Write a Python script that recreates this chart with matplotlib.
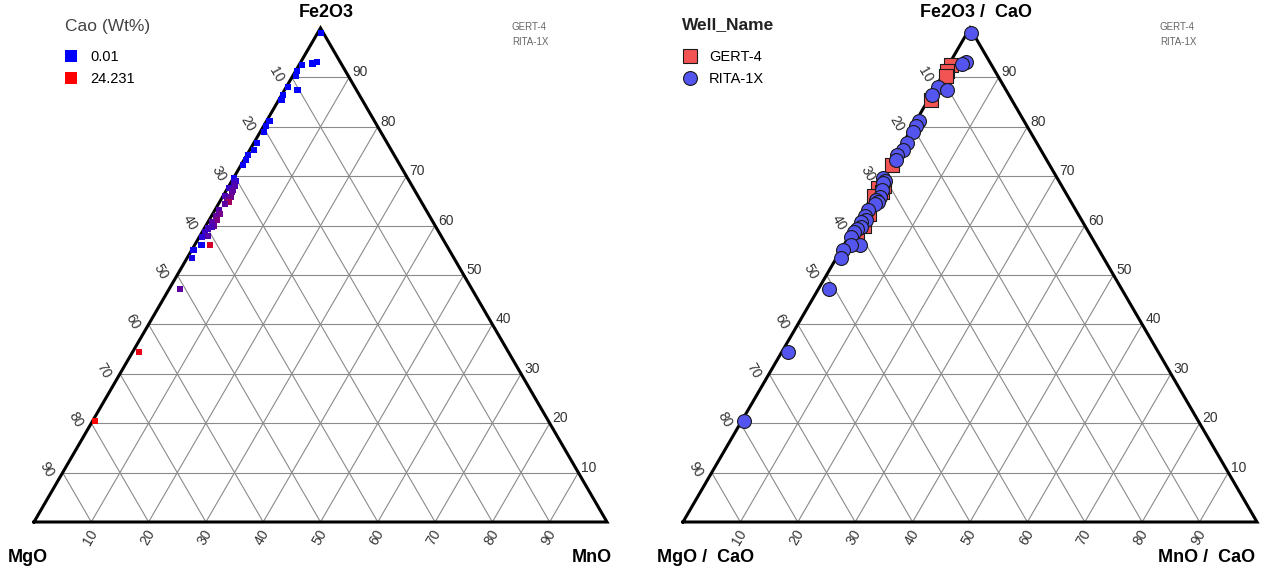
import numpy as np
import matplotlib.pyplot as plt
from matplotlib.colors import LinearSegmentedColormap
from matplotlib.lines import Line2D

plt.rcParams["font.family"] = ["Liberation Sans", "DejaVu Sans"]

# ternary data: Fe2O3 (top), MgO (bottom left), MnO (bottom right), wt% normalised
fe2o3 = [99.0, 93.1, 92.8, 92.5, 91.3, 90.3, 88.1, 87.4, 86.4, 85.4,
         81.2, 80.1, 79.0, 76.7, 75.3, 74.3, 73.3, 72.3, 69.6, 69.0,
         68.6, 68.0, 67.6, 67.2, 66.8, 66.0, 65.8, 65.2, 64.8, 64.4,
         63.2, 62.3, 61.9, 61.1, 60.7, 59.9, 59.8, 59.4, 58.7, 57.9,
         57.7, 56.1, 56.1, 55.1, 53.4, 47.2, 34.4, 20.4]
mno = [0.6, 2.8, 2.2, 0.5, 0.3, 0.6, 0.3, 2.3, 0.2, 0.5,
       0.5, 0.5, 0.6, 0.6, 0.7, 0.2, 0.4, 0.3, 0.1, 0.7,
       0.6, 1.1, 0.2, 1.1, 1.2, 0.3, 1.5, 1.1, 1.6, 1.2,
       0.7, 1.3, 0.8, 1.4, 0.7, 1.5, 1.1, 0.6, 0.5, 1.4,
       0.5, 2.7, 1.2, 0.3, 0.9, 1.9, 1.1, 0.4]
mgo = [0.4, 4.1, 5.0, 7.0, 8.4, 9.1, 11.6, 10.3, 13.4, 14.1,
       18.3, 19.4, 20.4, 22.7, 24.0, 25.5, 26.3, 27.4, 30.3, 30.3,
       30.8, 30.9, 32.2, 31.7, 32.0, 33.7, 32.7, 33.7, 33.6, 34.4,
       36.1, 36.4, 37.3, 37.5, 38.6, 38.6, 39.1, 40.0, 40.8, 40.7,
       41.8, 41.2, 42.7, 44.6, 45.7, 50.9, 64.5, 79.2]
cao = [0.01, 0.05, 0.08, 0.12, 0.10, 0.20, 0.15, 0.30, 0.25, 0.40,
       0.35, 0.50, 0.45, 0.60, 0.70, 0.80, 0.90, 1.10, 1.50, 4.5,
       6.0, 7.5, 5.0, 8.5, 9.0, 7.0, 10.5, 9.5, 15.5, 9.0,
       8.0, 11.0, 9.5, 12.0, 8.5, 10.0, 7.0, 6.5, 5.5, 8.0,
       4.0, 20.0, 1.0, 1.5, 2.0, 9.0, 22.0, 24.231]
well = ["RITA-1X", "RITA-1X", "RITA-1X", "GERT-4", "GERT-4", "GERT-4", "RITA-1X", "RITA-1X", "RITA-1X", "GERT-4",
        "RITA-1X", "RITA-1X", "RITA-1X", "RITA-1X", "RITA-1X", "RITA-1X", "RITA-1X", "GERT-4", "RITA-1X", "RITA-1X",
        "RITA-1X", "GERT-4", "GERT-4", "RITA-1X", "GERT-4", "GERT-4", "RITA-1X", "RITA-1X", "RITA-1X", "RITA-1X",
        "RITA-1X", "GERT-4", "RITA-1X", "RITA-1X", "RITA-1X", "GERT-4", "RITA-1X", "RITA-1X", "RITA-1X", "GERT-4",
        "RITA-1X", "RITA-1X", "RITA-1X", "RITA-1X", "RITA-1X", "RITA-1X", "RITA-1X", "RITA-1X"]

tick_values = [10, 20, 30, 40, 50, 60, 70, 80, 90]
wells = ["GERT-4", "RITA-1X"]
cao_range = [0.01, 24.231]

H = np.sqrt(3) / 2
W_PX, H_PX = 1266, 569


def to_xy(top, right):
    """Ternary (top %, right %) -> cartesian, triangle base 0..100."""
    top = np.asarray(top, dtype=float)
    right = np.asarray(right, dtype=float)
    return right + top / 2, top * H


def make_axes(fig, left_px, width_px, origin_px, scale_x, scale_y=5.704, base_px=47):
    ax = fig.add_axes([left_px / W_PX, 0, width_px / W_PX, 1])
    x_off = origin_px - left_px
    ax.set_xlim(-x_off / scale_x, (width_px - x_off) / scale_x)
    ax.set_ylim(-base_px / scale_y, (H_PX - base_px) / scale_y)
    ax.axis("off")
    return ax


def draw_frame(ax, top_name, left_name, right_name, right_off):
    grid_kw = dict(color="#8a8a8a", lw=0.8, zorder=1)
    for k in tick_values:
        x, y = to_xy([k, k], [0, 100 - k])
        ax.plot(x, y, **grid_kw)
        x, y = to_xy([0, 100 - k], [k, k])
        ax.plot(x, y, **grid_kw)
        x, y = to_xy([0, 100 - k], [100 - k, 0])
        ax.plot(x, y, **grid_kw)
    x, y = to_xy([0, 100, 0, 0], [0, 0, 100, 0])
    ax.plot(x, y, color="black", lw=2.2, zorder=2, solid_joinstyle="miter")

    lab_kw = dict(textcoords="offset pixels", fontsize=10, color="#333333")
    for k in tick_values:
        # left edge: MgO
        ax.annotate(str(k), to_xy(100 - k, 0), xytext=(-16, 3), ha="center",
                    va="center", rotation=-60, **lab_kw)
        # right edge: Fe2O3
        ax.annotate(str(k), to_xy(k, 100 - k), xytext=(3, 5), ha="left",
                    va="center", **lab_kw)
        # bottom edge: MnO
        ax.annotate(str(k), to_xy(0, k), xytext=(-1, -15), ha="center",
                    va="center", rotation=60, **lab_kw)

    name_kw = dict(textcoords="offset pixels", fontsize=13, fontweight="bold",
                   va="center", color="black")
    ax.annotate(top_name, to_xy(100, 0), xytext=(6, 16), ha="center", **name_kw)
    ax.annotate(left_name, to_xy(0, 0), xytext=(-26, -35), ha="left", **name_kw)
    ax.annotate(right_name, to_xy(0, 100), xytext=(right_off, -35), ha="right", **name_kw)


fig = plt.figure(figsize=(W_PX / 100, H_PX / 100), dpi=100)

# ---- left: coloured by CaO
ax1 = make_axes(fig, 0, 640, 34, 5.73)
draw_frame(ax1, "Fe2O3", "MgO", "MnO", 5)
cmap = LinearSegmentedColormap.from_list("cao", ["#0000ff", "#ff0000"])
px, py = to_xy(fe2o3, mno)
ax1.scatter(px, py, c=cao, cmap=cmap, vmin=cao_range[0], vmax=cao_range[1],
            marker="s", s=20, linewidths=0, zorder=3, clip_on=False)

fig.text(65 / W_PX, 1 - 27 / H_PX, "Cao (Wt%)", fontsize=12.5, color="#444444",
         va="center", ha="left")
handles = [Line2D([], [], marker="s", ls="none", markersize=8, markeredgewidth=0,
                  color=cmap((v - cao_range[0]) / (cao_range[1] - cao_range[0])))
           for v in cao_range]
ax1.legend(handles, [f"{v:g}" for v in cao_range], loc="upper left",
           bbox_to_anchor=(64 / W_PX, 1 - 50 / H_PX), bbox_transform=fig.transFigure,
           frameon=False, borderpad=0, borderaxespad=0, handlelength=1.0,
           handletextpad=0.8, labelspacing=0.55, prop={"size": 10.5})
fig.text(512 / W_PX, 1 - 27 / H_PX, "GERT-4", fontsize=7, color="#666666", va="center")
fig.text(512 / W_PX, 1 - 42 / H_PX, "RITA-1X", fontsize=7, color="#666666", va="center")

# ---- right: coloured by well
ax2 = make_axes(fig, 640, 626, 683, 5.74)
draw_frame(ax2, "Fe2O3 /  CaO", "MgO /  CaO", "MnO /  CaO", -2)
styles = {"GERT-4": dict(marker="s", color="#f25454", s=95),
          "RITA-1X": dict(marker="o", color="#5454ee", s=100)}
for name in wells:
    idx = [i for i, w in enumerate(well) if w == name]
    wx, wy = to_xy([fe2o3[i] for i in idx], [mno[i] for i in idx])
    st = styles[name]
    ax2.scatter(wx, wy, marker=st["marker"], s=st["s"], c=st["color"],
                edgecolors="#1a1a1a", linewidths=0.8, zorder=3, clip_on=False)

fig.text(682 / W_PX, 1 - 25 / H_PX, "Well_Name", fontsize=12.5, fontweight="bold",
         color="#222222", va="center", ha="left")
handles = [Line2D([], [], marker=styles[n]["marker"], ls="none", markersize=10,
                  markerfacecolor=styles[n]["color"], markeredgecolor="#1a1a1a",
                  markeredgewidth=0.8) for n in wells]
ax2.legend(handles, wells, loc="upper left",
           bbox_to_anchor=(683 / W_PX, 1 - 50 / H_PX), bbox_transform=fig.transFigure,
           frameon=False, borderpad=0, borderaxespad=0, handlelength=1.0,
           handletextpad=0.8, labelspacing=0.55, prop={"size": 10.5})
fig.text(1160 / W_PX, 1 - 27 / H_PX, "GERT-4", fontsize=7, color="#666666", va="center")
fig.text(1160 / W_PX, 1 - 42 / H_PX, "RITA-1X", fontsize=7, color="#666666", va="center")

fig.savefig("out.png", dpi=100, facecolor="white")
